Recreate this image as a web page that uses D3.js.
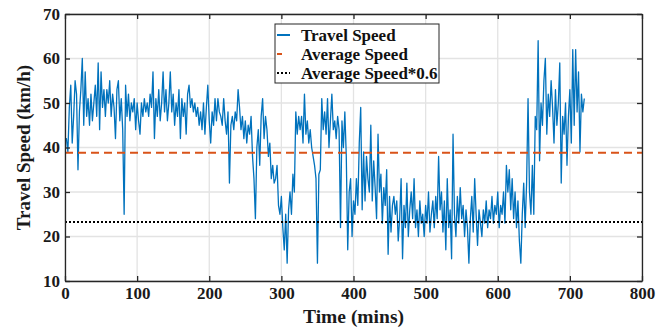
<!DOCTYPE html>
<html>
<head>
<meta charset="utf-8">
<script src="https://cdn.jsdelivr.net/npm/d3@7"></script>
<style>
  html, body { margin: 0; padding: 0; background: #fff; }
  text { font-family: "Liberation Serif", "Times New Roman", serif; font-weight: bold; }
</style>
</head>
<body>
<figure id="chart" style="margin:0"></figure>
<script>
const timeStep = 2;
const speed = [
  42, 42, 39, 49, 54, 41, 47, 55, 52, 35,
  48, 53, 60, 45, 57, 47, 51, 45, 52, 46,
  50, 54, 47, 59, 44, 57, 49, 53, 47, 53,
  50, 55, 47, 52, 49, 42, 53, 55, 46, 51,
  44, 25, 54, 47, 52, 46, 50, 48, 51, 44,
  50, 46, 43, 50, 47, 51, 48, 50, 47, 52,
  49, 57, 42, 51, 47, 53, 46, 50, 57, 48,
  53, 46, 50, 57, 48, 52, 45, 50, 47, 53,
  42, 51, 47, 50, 43, 52, 54, 49, 51, 48,
  50, 47, 49, 45, 48, 44, 50, 43, 49, 54,
  46, 41, 48, 45, 51, 46, 51, 48, 47, 45,
  51, 46, 43, 48, 32, 45, 47, 44, 48, 46,
  53, 49, 44, 47, 42, 46, 41, 45, 43, 47,
  38, 33, 24, 40, 44, 36, 47, 51, 42, 47,
  44, 38, 41, 33, 36, 32, 33, 36, 27, 25,
  29, 22, 17, 25, 14, 26, 30, 25, 34, 30,
  48, 43, 47, 44, 47, 41, 52, 43, 46, 41,
  44, 40, 38, 36, 33, 14, 34, 35, 51, 44,
  48, 43, 51, 40, 46, 52, 44, 46, 42, 47,
  44, 22, 46, 40, 48, 38, 17, 30, 33, 20,
  28, 25, 33, 27, 41, 49, 26, 39, 28, 38,
  33, 30, 45, 28, 37, 31, 24, 43, 30, 34,
  23, 31, 27, 35, 16, 29, 21, 27, 29, 25,
  28, 19, 24, 33, 15, 27, 22, 32, 20, 26,
  30, 24, 33, 22, 26, 20, 28, 23, 25, 20,
  27, 23, 30, 21, 25, 28, 22, 29, 24, 38,
  26, 30, 21, 28, 17, 33, 22, 26, 15, 43,
  25, 20, 29, 23, 31, 24, 27, 20, 26, 22,
  14, 24, 29, 21, 33, 25, 18, 26, 23, 20,
  26, 23, 28, 22, 26, 24, 29, 23, 27, 25,
  30, 22, 27, 25, 30, 23, 36, 30, 35, 26,
  33, 24, 30, 22, 28, 19, 14, 25, 32, 22,
  32, 51, 30, 25, 36, 25, 47, 44, 64, 37,
  50, 45, 55, 60, 43, 52, 47, 55, 49, 41,
  53, 45, 50, 59, 32, 47, 43, 50, 36, 47,
  53, 41, 62, 45, 62, 48, 57, 39, 52, 48,
  51
];
const avgSpeed = 38.8;
const avgFactor = 0.6;

const xTicks = [0, 100, 200, 300, 400, 500, 600, 700, 800];
const yTicks = [10, 20, 30, 40, 50, 60, 70];
const legendLabels = ["Travel Speed", "Average Speed", "Average Speed*0.6"];

const size = { width: 668, height: 328, left: 65, right: 642, top: 14, bottom: 281 };

const svg = d3.select("figure#chart")
  .append("svg")
  .attr("width", size.width)
  .attr("height", size.height);

const x = d3.scaleLinear().domain([0, 800]).range([size.left, size.right]);
const y = d3.scaleLinear().domain([10, 70]).range([size.bottom, size.top]);

// grid
const grid = svg.append("g").attr("stroke", "#e3e3e3").attr("stroke-width", 1.3);
grid.selectAll("line.vx").data(xTicks).join("line")
  .attr("x1", d => x(d)).attr("x2", d => x(d))
  .attr("y1", size.top).attr("y2", size.bottom);
grid.selectAll("line.hy").data(yTicks).join("line")
  .attr("x1", size.left).attr("x2", size.right)
  .attr("y1", d => y(d)).attr("y2", d => y(d));

// travel speed
const line = d3.line()
  .x((d, i) => x(i * timeStep))
  .y(d => y(d));

svg.append("path")
  .datum(speed)
  .attr("fill", "none")
  .attr("stroke", "#0072BD")
  .attr("stroke-width", 1.3)
  .attr("stroke-linejoin", "round")
  .attr("d", line);

// average lines
svg.append("line")
  .attr("x1", size.left).attr("x2", size.right)
  .attr("y1", y(avgSpeed)).attr("y2", y(avgSpeed))
  .attr("stroke", "#D95319").attr("stroke-width", 2)
  .attr("stroke-dasharray", "8,5");

svg.append("line")
  .attr("x1", size.left).attr("x2", size.right)
  .attr("y1", y(avgSpeed * avgFactor)).attr("y2", y(avgSpeed * avgFactor))
  .attr("stroke", "#000").attr("stroke-width", 2)
  .attr("stroke-dasharray", "2,2");

// axes (ticks pointing inward, box on)
const styleAxis = g => {
  g.select(".domain").attr("stroke", "#262626").attr("stroke-width", 1.3);
  g.selectAll(".tick line").attr("stroke", "#262626").attr("stroke-width", 1.3);
  g.selectAll("text").attr("fill", "#1a1a1a").style("font-size", "17px");
};

svg.append("g")
  .attr("transform", "translate(0," + size.bottom + ")")
  .call(d3.axisBottom(x).tickValues(xTicks).tickSizeInner(-5).tickSizeOuter(0).tickPadding(6))
  .call(styleAxis);

svg.append("g")
  .attr("transform", "translate(0," + size.top + ")")
  .call(d3.axisTop(x).tickValues(xTicks).tickSizeInner(-5).tickSizeOuter(0).tickFormat(""))
  .call(styleAxis);

svg.append("g")
  .attr("transform", "translate(" + size.left + ",0)")
  .call(d3.axisLeft(y).tickValues(yTicks).tickSizeInner(-5).tickSizeOuter(0).tickPadding(5))
  .call(styleAxis);

svg.append("g")
  .attr("transform", "translate(" + size.right + ",0)")
  .call(d3.axisRight(y).tickValues(yTicks).tickSizeInner(-5).tickSizeOuter(0).tickFormat(""))
  .call(styleAxis);

// axis titles
svg.append("text")
  .attr("x", (size.left + size.right) / 2)
  .attr("y", 323)
  .attr("text-anchor", "middle")
  .attr("fill", "#1a1a1a")
  .style("font-size", "19.5px")
  .text("Time (mins)");

svg.append("text")
  .attr("transform", "translate(30," + ((size.top + size.bottom) / 2) + ") rotate(-90)")
  .attr("text-anchor", "middle")
  .attr("fill", "#1a1a1a")
  .style("font-size", "19px")
  .text("Travel Speed (km/h)");

// legend
const legend = svg.append("g").attr("transform", "translate(275,24)");
legend.append("rect")
  .attr("width", 164).attr("height", 59)
  .attr("fill", "#fff").attr("stroke", "#262626").attr("stroke-width", 1);

const legendStyles = [
  { stroke: "#0072BD", dash: null, x2: 15 },
  { stroke: "#D95319", dash: null, x2: 7 },
  { stroke: "#000", dash: "2,2", x2: 15 }
];
legendLabels.forEach((label, i) => {
  const cy = 11 + i * 19;
  const s = legendStyles[i];
  legend.append("line")
    .attr("x1", 2).attr("x2", s.x2)
    .attr("y1", cy).attr("y2", cy)
    .attr("stroke", s.stroke).attr("stroke-width", 2)
    .attr("stroke-dasharray", s.dash);
  legend.append("text")
    .attr("x", 26).attr("y", cy)
    .attr("dy", "0.35em")
    .attr("fill", "#111")
    .style("font-size", "17px")
    .text(label);
});
</script>
</body>
</html>
